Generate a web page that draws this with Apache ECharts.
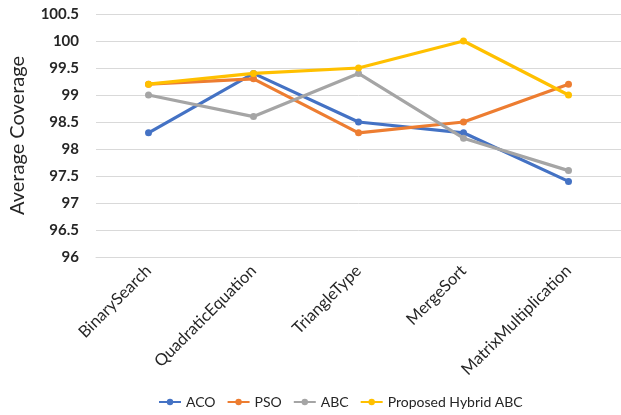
<!DOCTYPE html>
<html>
<head>
<meta charset="utf-8">
<script src="https://cdn.jsdelivr.net/npm/echarts@6/dist/echarts.min.js"></script>
<style>
html, body { margin: 0; padding: 0; background: #fff; }
#chart { width: 621px; height: 415px; }
</style>
</head>
<body>
<div id="chart"></div>
<script>
// Benchmark programs on the category axis
const categories = ['BinarySearch', 'QuadraticEquation', 'TriangleType', 'MergeSort', 'MatrixMultiplication'];

// Average coverage per algorithm
const acoValues    = [98.3, 99.4, 98.5, 98.3, 97.4];
const psoValues    = [99.2, 99.3, 98.3, 98.5, 99.2];
const abcValues    = [99.0, 98.6, 99.4, 98.2, 97.6];
const hybridValues = [99.2, 99.4, 99.5, 100.0, 99.0];

const seriesNames = ['ACO', 'PSO', 'ABC', 'Proposed Hybrid ABC'];
const seriesColors = ['#4472C4', '#ED7D31', '#A5A5A5', '#FFC000'];
const seriesData = [acoValues, psoValues, abcValues, hybridValues];

const fontFamily = 'Lato, "Liberation Sans", sans-serif';

const chart = echarts.init(document.getElementById('chart'), null, { renderer: 'canvas' });

chart.setOption({
  animation: false,
  backgroundColor: '#fff',
  textStyle: { fontFamily: fontFamily },
  grid: { left: 95, right: 0, top: 14, bottom: 158, containLabel: false },
  legend: {
    bottom: 1,
    left: 153,
    itemWidth: 22,
    itemHeight: 8,
    itemGap: 11,
    textStyle: { fontSize: 14, color: '#262626', fontFamily: fontFamily },
    data: seriesNames
  },
  xAxis: {
    type: 'category',
    data: categories,
    boundaryGap: true,
    axisLine: { show: true, lineStyle: { color: '#d9d9d9', width: 1 } },
    axisTick: { show: false },
    axisLabel: {
      rotate: 45,
      interval: 0,
      margin: 11,
      fontSize: 16.5,
      color: '#262626',
      fontFamily: fontFamily
    }
  },
  yAxis: {
    type: 'value',
    min: 96,
    max: 100.5,
    interval: 0.5,
    name: 'Average Coverage',
    nameLocation: 'middle',
    nameGap: 68,
    nameTextStyle: { fontSize: 20, color: '#262626', fontFamily: fontFamily },
    axisLine: { show: false },
    axisTick: { show: false },
    splitLine: { lineStyle: { color: '#d9d9d9', width: 1 } },
    axisLabel: {
      margin: 17,
      fontSize: 15,
      fontWeight: 'bold',
      color: '#262626',
      fontFamily: fontFamily
    }
  },
  series: seriesNames.map((name, i) => ({
    name: name,
    type: 'line',
    data: seriesData[i],
    symbol: 'circle',
    symbolSize: 7,
    lineStyle: { width: 3.2, color: seriesColors[i] },
    itemStyle: { color: seriesColors[i] },
    z: 2 + i
  }))
});
</script>
</body>
</html>
